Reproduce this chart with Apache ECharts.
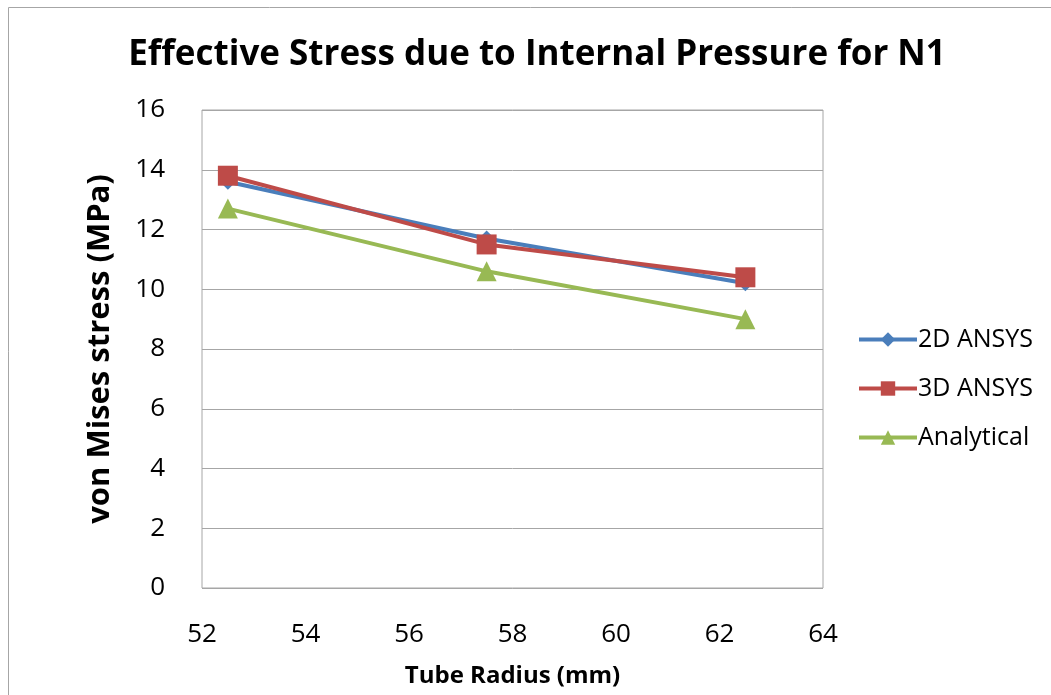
<!DOCTYPE html>
<html><head><meta charset="utf-8">
<script src="https://cdn.jsdelivr.net/npm/echarts@6/dist/echarts.min.js"></script>
<style>html,body{margin:0;padding:0;background:#fff}#c{width:1051px;height:695px}</style>
</head><body><div id="c"></div>
<script>
const radius = [52.5, 57.5, 62.5];
const ansys2D = [13.6, 11.7, 10.2];
const ansys3D = [13.8, 11.5, 10.4];
const analytical = [12.7, 10.6, 9.0];
const seriesNames = ['2D ANSYS', '3D ANSYS', 'Analytical'];

const pair = v => radius.map((x, i) => [x, v[i]]);
const font = "'Open Sans', 'Liberation Sans', sans-serif";
const chart = echarts.init(document.getElementById('c'));
chart.setOption({
  animation: false,
  title: { text: 'Effective Stress due to Internal Pressure for N1', left: 532, top: 33, textAlign: 'center',
    textStyle: { fontFamily: font, fontSize: 35, fontWeight: 'bold', color: '#000' } },
  graphic: [{ type: 'rect', shape: { x: 8.5, y: 7.5, width: 1060, height: 700 }, style: { fill: 'none', stroke: '#a6a6a6', lineWidth: 1 } }],
  legend: { orient: 'vertical', left: 852, top: 322, itemGap: 24, itemWidth: 58, itemHeight: 18,
    lineStyle: { width: 4 },
    textStyle: { fontFamily: font, fontSize: 25, color: '#000', padding: [0,0,0,-4] },
    data: seriesNames },
  grid: { left: 202, right: 228, top: 110, bottom: 107, show: true, borderColor: '#a6a6a6', borderWidth: 1 },
  xAxis: { type: 'value', min: 52, max: 64, interval: 2,
    name: 'Tube Radius (mm)', nameLocation: 'middle', nameGap: 76,
    nameTextStyle: { fontFamily: font, fontSize: 24, fontWeight: 'bold', color: '#000' },
    axisLine: { show: false }, axisTick: { show: false }, splitLine: { show: false },
    axisLabel: { fontFamily: font, fontSize: 26, color: '#000', margin: 34 } },
  yAxis: { type: 'value', min: 0, max: 16, interval: 2,
    name: 'von Mises stress (MPa)', nameLocation: 'middle', nameGap: 86, nameRotate: 90,
    nameTextStyle: { fontFamily: font, fontSize: 31, fontWeight: 'bold', color: '#000' },
    axisLine: { show: false }, axisTick: { show: false },
    splitLine: { lineStyle: { color: '#a6a6a6', width: 1 } },
    axisLabel: { fontFamily: font, fontSize: 26, color: '#000', margin: 37 } },
  series: [
    { name: seriesNames[0], type: 'line', data: pair(ansys2D), symbol: 'diamond', symbolSize: 16,
      lineStyle: { color: '#4a7ebb', width: 4 }, itemStyle: { color: '#4a7ebb' } },
    { name: seriesNames[1], type: 'line', data: pair(ansys3D), symbol: 'rect', symbolSize: 20,
      lineStyle: { color: '#be4b48', width: 4 }, itemStyle: { color: '#be4b48' } },
    { name: seriesNames[2], type: 'line', data: pair(analytical), symbol: 'triangle', symbolSize: 20,
      lineStyle: { color: '#98b954', width: 4 }, itemStyle: { color: '#98b954' } }
  ]
});
</script></body></html>
